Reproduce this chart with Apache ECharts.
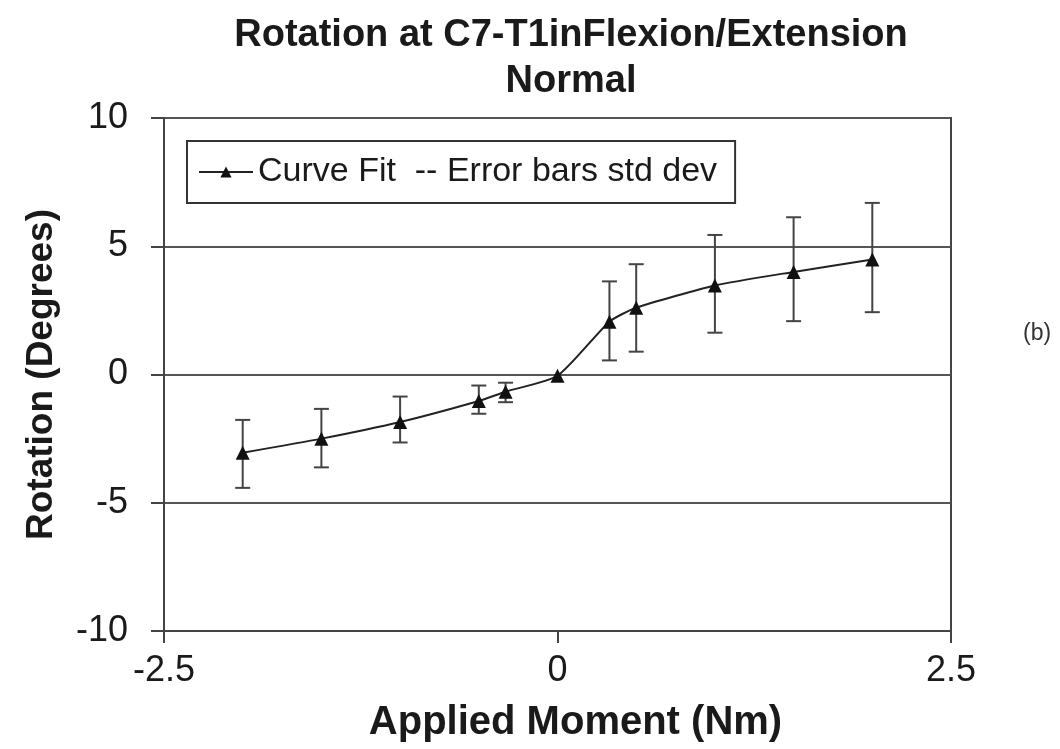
<!DOCTYPE html>
<html>
<head>
<meta charset="utf-8">
<script src="https://cdn.jsdelivr.net/npm/echarts@6/dist/echarts.min.js"></script>
<style>
html,body{margin:0;padding:0;background:#fff;}
#chart{width:1060px;height:749px;}
</style>
</head>
<body>
<div id="chart"></div>
<script>
// Applied moment (Nm)
const moments = [-2, -1.5, -1, -0.5, -0.33, 0, 0.33, 0.5, 1, 1.5, 2];
// Rotation (degrees), curve fit
const rotation = [-3.05, -2.5, -1.85, -1.03, -0.67, -0.05, 2.06, 2.6, 3.47, 4.0, 4.48];
// Error bar ends (mean +/- std dev)
const errUpper = [-1.77, -1.34, -0.86, -0.43, -0.32, null, 3.63, 4.30, 5.44, 6.13, 6.69];
const errLower = [-4.42, -3.62, -2.65, -1.53, -1.08, null, 0.55, 0.89, 1.63, 2.08, 2.43];
const xTicks = [-2.5, 0, 2.5];
const yTicks = [-10, -5, 0, 5, 10];

const FONT = '"Liberation Sans", Arial, Helvetica, sans-serif';
const TXT = '#1a1a1a';

const lineData = moments.map((m, i) => [m, rotation[i]]);
const errData = [];
moments.forEach((m, i) => {
  if (errUpper[i] !== null && errLower[i] !== null) errData.push([m, errLower[i], errUpper[i]]);
});

const chart = echarts.init(document.getElementById('chart'), null, {renderer: 'canvas'});
chart.setOption({
  backgroundColor: '#fff',
  animation: false,
  title: {
    text: 'Rotation at C7-T1inFlexion/Extension\nNormal',
    left: 566,
    top: 8,
    textAlign: 'center',
    textStyle: {fontFamily: FONT, fontWeight: 'bold', fontSize: 38, color: TXT, lineHeight: 46}
  },
  graphic: [{
    type: 'text',
    left: 1023,
    top: 322,
    style: {text: '(b)', font: '23px "Liberation Sans", Arial, sans-serif', fill: '#333'}
  }],
  legend: {
    data: ['Curve Fit'],
    left: 187,
    top: 141,
    orient: 'horizontal',
    padding: [14, 18, 14, 11],
    itemWidth: 54,
    itemHeight: 14,
    borderColor: '#333',
    borderWidth: 2,
    borderRadius: 0,
    backgroundColor: '#fff',
    formatter: function (name) { return name === 'Curve Fit' ? 'Curve Fit  -- Error bars std dev' : name; },
    textStyle: {fontFamily: FONT, fontSize: 34, color: TXT}
  },
  grid: {
    left: 164, right: 109, top: 118, bottom: 118,
    show: true, borderColor: '#444', borderWidth: 2, backgroundColor: 'transparent'
  },
  xAxis: {
    type: 'value',
    min: xTicks[0], max: xTicks[xTicks.length - 1], interval: 2.5,
    name: 'Applied Moment (Nm)',
    nameLocation: 'middle',
    nameGap: 72,
    nameTextStyle: {fontFamily: FONT, fontWeight: 'bold', fontSize: 40, color: TXT, padding: [0, 0, 0, 36]},
    axisLine: {show: true, onZero: false, lineStyle: {color: '#444', width: 2}},
    axisTick: {show: true, inside: false, length: 12, lineStyle: {color: '#444', width: 2}},
    axisLabel: {margin: 22, fontFamily: FONT, fontSize: 36, color: TXT},
    splitLine: {show: false}
  },
  yAxis: {
    type: 'value',
    min: yTicks[0], max: yTicks[yTicks.length - 1], interval: 5,
    name: 'Rotation (Degrees)',
    nameLocation: 'middle',
    nameGap: 104,
    nameRotate: 90,
    nameTextStyle: {fontFamily: FONT, fontWeight: 'bold', fontSize: 37, color: TXT},
    axisLine: {show: true, onZero: false, lineStyle: {color: '#444', width: 2}},
    axisTick: {show: true, inside: false, length: 13, lineStyle: {color: '#444', width: 2}},
    axisLabel: {margin: 36, fontFamily: FONT, fontSize: 36, color: TXT},
    splitLine: {show: true, lineStyle: {color: '#555', width: 2}}
  },
  series: [
    {
      name: 'Error bars std dev',
      type: 'custom',
      z: 2,
      data: errData,
      encode: {x: 0, y: [1, 2]},
      renderItem: function (params, api) {
        const x = api.value(0);
        const lo = api.coord([x, api.value(1)]);
        const hi = api.coord([x, api.value(2)]);
        const hw = 7.5;
        const st = {stroke: '#444', lineWidth: 2};
        return {
          type: 'group',
          children: [
            {type: 'line', shape: {x1: lo[0], y1: lo[1], x2: hi[0], y2: hi[1]}, style: st},
            {type: 'line', shape: {x1: lo[0] - hw, y1: lo[1], x2: lo[0] + hw, y2: lo[1]}, style: st},
            {type: 'line', shape: {x1: hi[0] - hw, y1: hi[1], x2: hi[0] + hw, y2: hi[1]}, style: st}
          ]
        };
      }
    },
    {
      name: 'Curve Fit',
      type: 'line',
      z: 3,
      data: lineData,
      smooth: 0.2,
      symbol: 'triangle',
      symbolSize: 14,
      showAllSymbol: true,
      lineStyle: {color: '#222', width: 2},
      itemStyle: {color: '#111'}
    }
  ]
});
</script>
</body>
</html>
